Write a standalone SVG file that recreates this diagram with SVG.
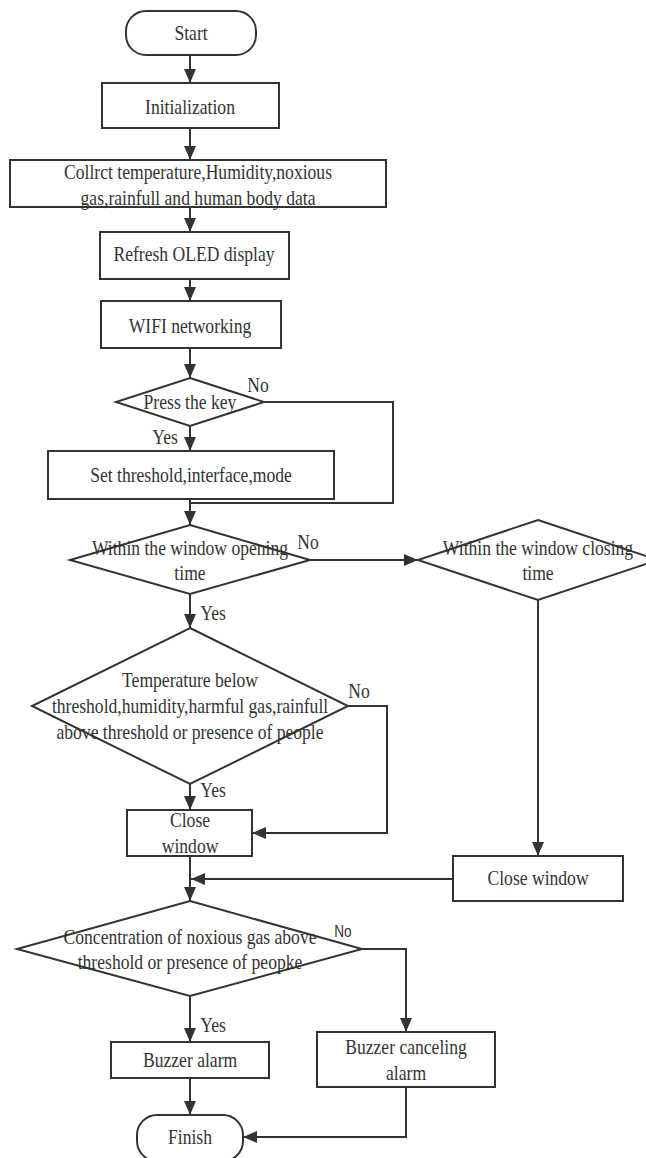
<svg xmlns="http://www.w3.org/2000/svg" width="646" height="1158" viewBox="0 0 646 1158">
<style>
.box{fill:#fff;stroke:#333;stroke-width:2}
.t{font-family:"Liberation Serif","Times New Roman",serif;font-size:22px;fill:#333;text-anchor:middle;transform-box:fill-box;transform-origin:center;transform:scaleX(0.8)}
.ls{font-family:"Liberation Sans",Arial,sans-serif;font-size:16px;fill:#333;text-anchor:middle;transform-box:fill-box;transform-origin:center;transform:scaleX(0.85)}
.c{fill:none;stroke:#333;stroke-width:2}
</style>
<defs>
<marker id="ah" markerUnits="userSpaceOnUse" markerWidth="14" markerHeight="12" refX="14" refY="6" orient="auto">
<path d="M0,0 L14,6 L0,12 z" fill="#333"/>
</marker>
</defs>
<rect width="646" height="1158" fill="#fff"/>
<g id="connectors">
<path class="c" d="M190,55 V83" marker-end="url(#ah)"/>
<path class="c" d="M190,128 V160" marker-end="url(#ah)"/>
<path class="c" d="M190,207 V232" marker-end="url(#ah)"/>
<path class="c" d="M190,279 V301" marker-end="url(#ah)"/>
<path class="c" d="M190,348 V378" marker-end="url(#ah)"/>
<path class="c" d="M190,426 V451" marker-end="url(#ah)"/>
<path class="c" d="M264,402 H393 V503 H190"/>
<path class="c" d="M190,499 V525" marker-end="url(#ah)"/>
<path class="c" d="M310,560 H418" marker-end="url(#ah)"/>
<path class="c" d="M190,594 V628" marker-end="url(#ah)"/>
<path class="c" d="M538,600 V856" marker-end="url(#ah)"/>
<path class="c" d="M190,784 V810" marker-end="url(#ah)"/>
<path class="c" d="M348,706 H387 V833 H252" marker-end="url(#ah)"/>
<path class="c" d="M190,856 V901" marker-end="url(#ah)"/>
<path class="c" d="M453,879 H191" marker-end="url(#ah)"/>
<path class="c" d="M190,996 V1042" marker-end="url(#ah)"/>
<path class="c" d="M362,949 H406 V1032" marker-end="url(#ah)"/>
<path class="c" d="M190,1078 V1115" marker-end="url(#ah)"/>
<path class="c" d="M406,1087 V1137 H243" marker-end="url(#ah)"/>
<text class="t" x="258" y="392">No</text>
<text class="t" x="165" y="444">Yes</text>
<text class="t" x="308" y="549">No</text>
<text class="t" x="213" y="620">Yes</text>
<text class="t" x="359" y="698">No</text>
<text class="t" x="213" y="797">Yes</text>
<text class="ls" x="343" y="937">No</text>
<text class="t" x="213" y="1032">Yes</text>
</g>
<g id="start">
<rect class="box" x="126" y="11" width="130" height="44" rx="20"/>
<text class="t" x="191" y="40">Start</text>
</g>
<g id="init">
<rect class="box" x="102" y="83" width="177" height="45"/>
<text class="t" x="190" y="114">Initialization</text>
</g>
<g id="collect">
<rect class="box" x="10" y="160" width="376" height="47"/>
<text class="t" x="198" y="179">Collrct temperature,Humidity,noxious</text>
<text class="t" x="198" y="205">gas,rainfull and human body data</text>
</g>
<g id="oled">
<rect class="box" x="100" y="232" width="189" height="47"/>
<text class="t" x="194" y="261">Refresh OLED display</text>
</g>
<g id="wifi">
<rect class="box" x="101" y="301" width="180" height="47"/>
<text class="t" x="190" y="333">WIFI networking</text>
</g>
<g id="presskey">
<polygon class="box" points="190,378 264,402 190,426 116,402"/>
<text class="t" x="190" y="409">Press the key</text>
</g>
<g id="setthreshold">
<rect class="box" x="48" y="451" width="286" height="48"/>
<text class="t" x="191" y="482">Set threshold,interface,mode</text>
</g>
<g id="opening">
<polygon class="box" points="190,525 310,560 190,594 70,560"/>
<text class="t" x="190" y="555">Within the window opening</text>
<text class="t" x="190" y="580">time</text>
</g>
<g id="closing">
<polygon class="box" points="538,520 658,560 538,600 418,560"/>
<text class="t" x="538" y="555">Within the window closing</text>
<text class="t" x="538" y="580">time</text>
</g>
<g id="temperature">
<polygon class="box" points="190,628 348,706 190,784 32,706"/>
<text class="t" x="190" y="687">Temperature below</text>
<text class="t" x="190" y="713">threshold,humidity,harmful gas,rainfull</text>
<text class="t" x="190" y="739">above threshold or presence of people</text>
</g>
<g id="closewindow1">
<rect class="box" x="127" y="810" width="125" height="46"/>
<text class="t" x="190" y="827">Close</text>
<text class="t" x="190" y="853">window</text>
</g>
<g id="closewindow2">
<rect class="box" x="453" y="856" width="170" height="45"/>
<text class="t" x="538" y="885">Close window</text>
</g>
<g id="concentration">
<polygon class="box" points="190,901 362,949 190,996 17,949"/>
<text class="t" x="190" y="944">Concentration of noxious gas above</text>
<text class="t" x="190" y="969">threshold or presence of peopke</text>
</g>
<g id="buzzer">
<rect class="box" x="111" y="1042" width="158" height="36"/>
<text class="t" x="190" y="1067">Buzzer alarm</text>
</g>
<g id="cancel">
<rect class="box" x="317" y="1032" width="178" height="55"/>
<text class="t" x="406" y="1054">Buzzer canceling</text>
<text class="t" x="406" y="1080">alarm</text>
</g>
<g id="finish">
<rect class="box" x="137" y="1115" width="106" height="46" rx="20"/>
<text class="t" x="190" y="1144">Finish</text>
</g>
</svg>
